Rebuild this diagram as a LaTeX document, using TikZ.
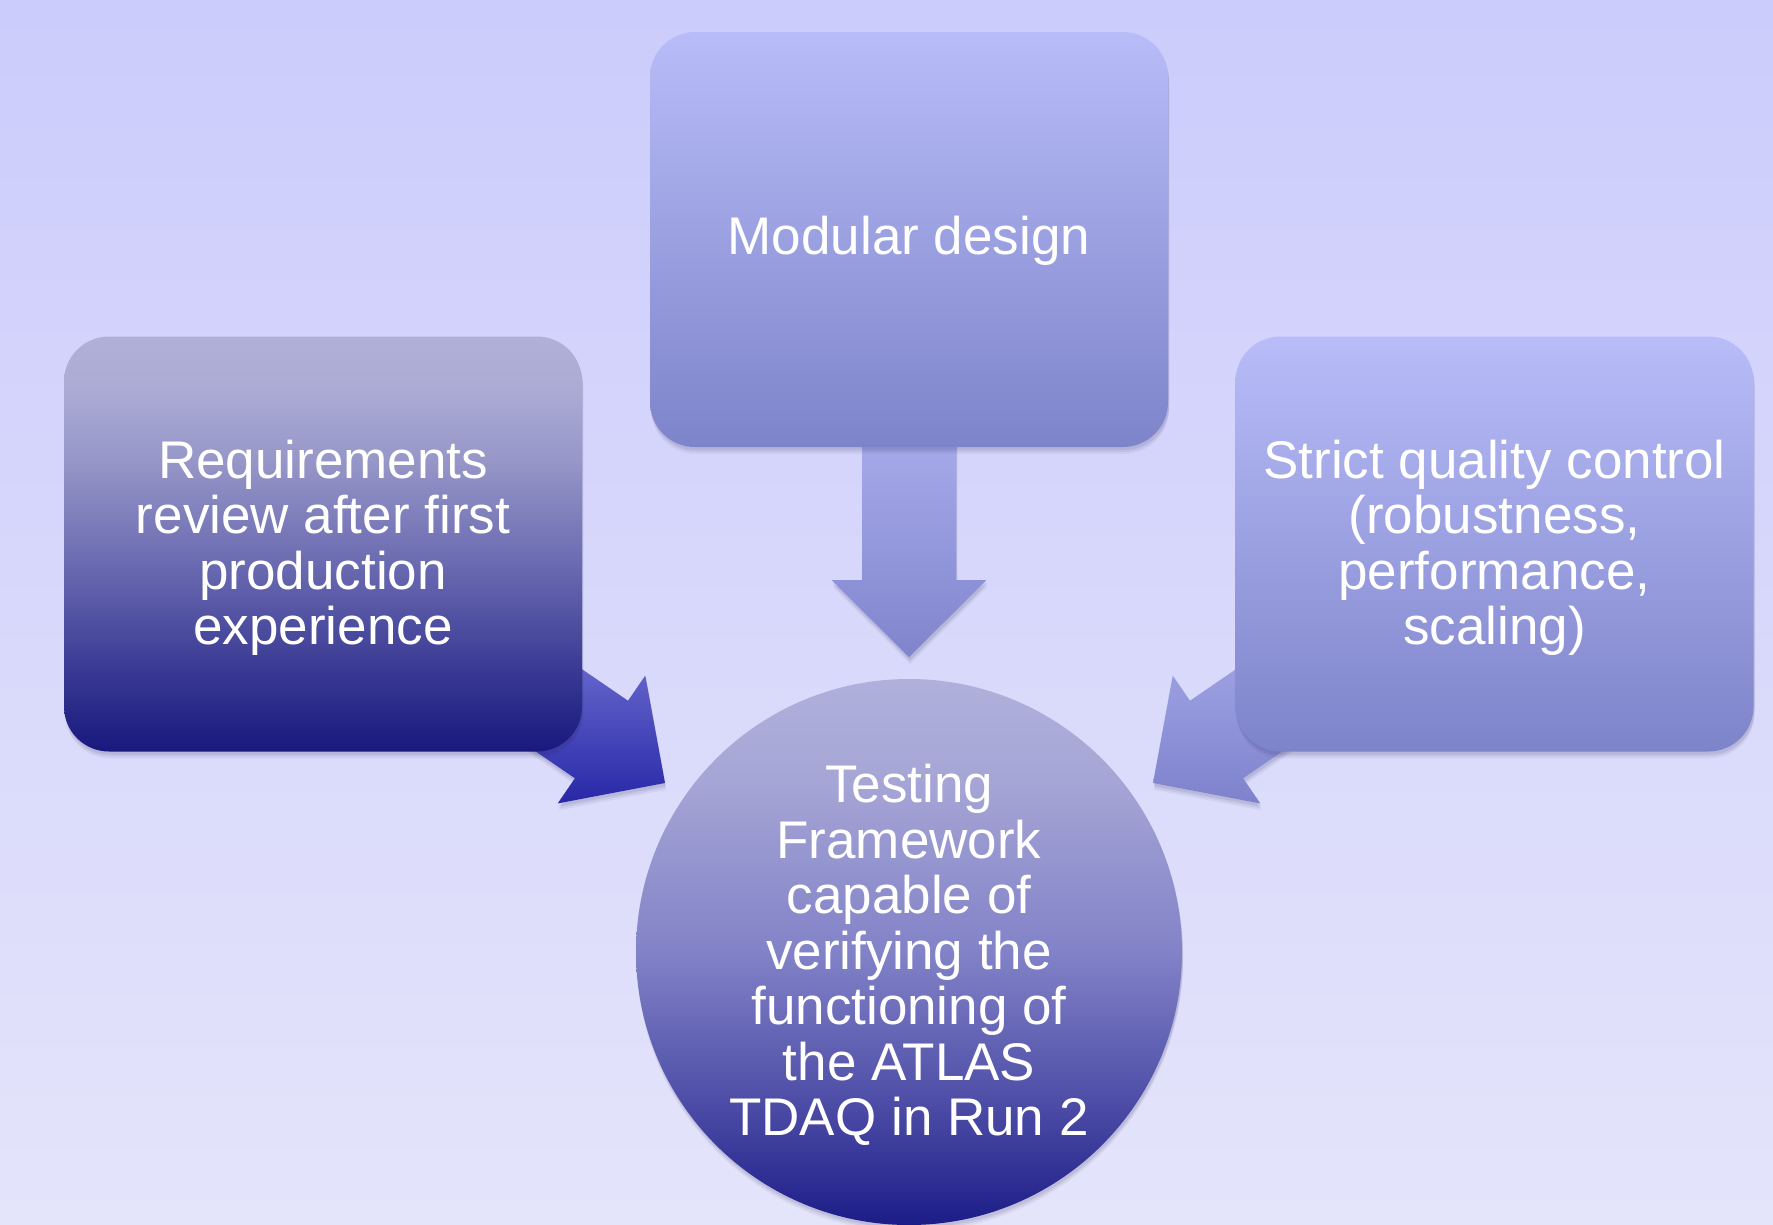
\documentclass[tikz,border=0pt]{standalone}
\usepackage{fontspec}
\setmainfont{Liberation Sans}
\usetikzlibrary{calc,shadows}

\definecolor{bgtop}{RGB}{204,204,252}
\definecolor{bgbot}{RGB}{228,228,251}
\definecolor{paletop}{RGB}{184,188,248}
\definecolor{palebot}{RGB}{126,132,202}
\definecolor{larrtop}{RGB}{116,116,212}
\definecolor{larrbot}{RGB}{40,40,168}
\definecolor{rarrtop}{RGB}{164,168,232}
\definecolor{rarrbot}{RGB}{126,130,204}
\definecolor{darrtop}{RGB}{168,172,236}
\definecolor{darrbot}{RGB}{128,132,204}
\definecolor{shade}{RGB}{40,40,90}

% grey-lavender to navy fades (path box spans 25bp..75bp)
\pgfdeclareverticalshading{reviewfade}{100bp}{%
  color(0bp)=(rgb,255:red,24;green,24;blue,126);
  color(25bp)=(rgb,255:red,24;green,24;blue,126);
  color(35bp)=(rgb,255:red,58;green,58;blue,148);
  color(47bp)=(rgb,255:red,104;green,104;blue,176);
  color(60bp)=(rgb,255:red,150;green,150;blue,200);
  color(68bp)=(rgb,255:red,170;green,170;blue,212);
  color(75bp)=(rgb,255:red,176;green,176;blue,216);
  color(100bp)=(rgb,255:red,176;green,176;blue,216)}
\pgfdeclareverticalshading{corefade}{100bp}{%
  color(0bp)=(rgb,255:red,28;green,28;blue,136);
  color(25bp)=(rgb,255:red,28;green,28;blue,136);
  color(36bp)=(rgb,255:red,76;green,76;blue,166);
  color(50bp)=(rgb,255:red,130;green,130;blue,200);
  color(66bp)=(rgb,255:red,166;green,166;blue,214);
  color(75bp)=(rgb,255:red,176;green,176;blue,220);
  color(100bp)=(rgb,255:red,176;green,176;blue,220)}

\tikzset{
  soft/.style={
    drop shadow={shadow xshift=1pt, shadow yshift=-7pt, fill=shade, opacity=.05},
    drop shadow={shadow xshift=1pt, shadow yshift=-5pt, fill=shade, opacity=.07},
    drop shadow={shadow xshift=1pt, shadow yshift=-3pt, fill=shade, opacity=.09}},
  panel/.style={rectangle, rounded corners=45pt, minimum width=518pt,
      minimum height=415pt, soft},
  label/.style={text=white, align=center, inner sep=0pt,
      font=\fontsize{53}{55.5}\selectfont},
}

% block arrow from #1 to the tip #2, filled with style #3
\newcommand\flowarrow[3]{%
  \coordinate (hb) at ($(#2)!77pt!(#1)$);
  \path[#3] ($(#1)!47pt!90:(#2)$) -- ($(hb)!47pt!90:(#2)$)
    -- ($(hb)!77.5pt!90:(#2)$) -- (#2) -- ($(hb)!77.5pt!-90:(#2)$)
    -- ($(hb)!47pt!-90:(#2)$) -- ($(#1)!47pt!-90:(#2)$) -- cycle;
}

\begin{document}
\begin{tikzpicture}[x=1pt,y=-1pt]
  \useasboundingbox (0,0) rectangle (1773,1224);
  \clip (0,0) rectangle (1773,1224);
  \fill[top color=bgtop, bottom color=bgbot] (0,0) rectangle (1773,1224);

  % centres of the four shapes
  \path (909,239.5) coordinate (topc)
        (323,544) coordinate (leftc)
        (1494.5,544) coordinate (rightc)
        (909,952) coordinate (corec);

  % arrows into the central circle, drawn first so the boxes cover their tails
  \coordinate (la0) at ($(leftc)+(177,126)$);
  \coordinate (la1) at ($(corec)+(-244,-169)$);
  \coordinate (ra0) at ($(rightc)+(-176.5,126)$);
  \coordinate (ra1) at ($(corec)+(244,-169)$);
  \coordinate (da0) at ($(topc)+(0,190)$);
  \coordinate (da1) at ($(corec)+(0,-295)$);
  \flowarrow{la0}{la1}{top color=larrtop, bottom color=larrbot, soft}
  \flowarrow{ra0}{ra1}{top color=rarrtop, bottom color=rarrbot, soft}
  \flowarrow{da0}{da1}{top color=darrtop, bottom color=darrbot, soft}

  % boxes and circle
  \node[panel, top color=paletop, bottom color=palebot] (design) at (topc) {};
  \node[panel, shading=reviewfade] (review) at (leftc) {};
  \node[panel, top color=paletop, bottom color=palebot] (quality) at (rightc) {};
  \node[circle, minimum size=546pt, inner sep=0pt, soft,
        shading=corefade] (core) at (corec) {};

  % texts
  \node[label] at ($(design)+(0,1)$) {Modular design};
  \node[label] at ($(review)+(0,4)$) {Requirements\\review after first\\production\\experience};
  \node[label] at ($(quality)+(0,4)$) {Strict quality control\\(robustness,\\performance,\\scaling)};
  \node[label] at ($(core)+(0,3)$) {Testing\\Framework\\capable of\\verifying the\\functioning of\\the ATLAS\\TDAQ in Run 2};
\end{tikzpicture}
\end{document}
